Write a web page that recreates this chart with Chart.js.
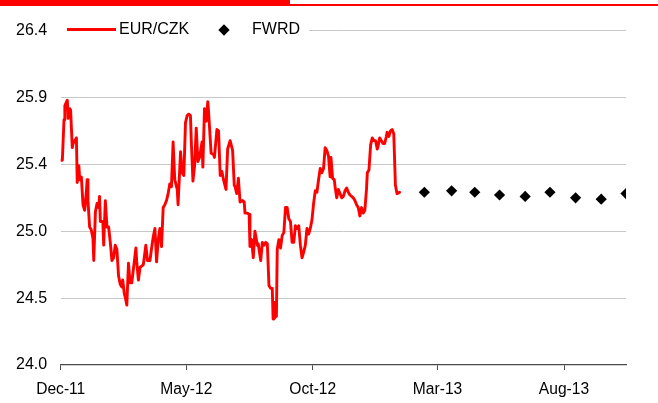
<!DOCTYPE html>
<html>
<head>
<meta charset="utf-8">
<script src="https://cdn.jsdelivr.net/npm/chart.js@4.4.1/dist/chart.umd.min.js"></script>
<style>
  html, body { margin: 0; padding: 0; background: #fff; }
  #wrap { position: relative; width: 658px; height: 403px; overflow: hidden;
          font-family: "Liberation Sans", Arial, sans-serif; }
  #c { position: absolute; left: 0; top: 0; }
  .bar-thick { position: absolute; left: 0; top: 0; width: 290px; height: 5px; background: #ff0000; }
  .bar-thin { position: absolute; left: 0; top: 4px; width: 658px; height: 2px; background: #ff0000; }
  .lg-bg { position: absolute; left: 52px; top: 21px; width: 257px; height: 18px; background: #fff; }
  .lg-line { position: absolute; left: 67px; top: 28px; width: 49px; height: 3px; background: #ff0000; }
  .lg-text { position: absolute; top: 20.45px; font-size: 16px; line-height: 18px; color: #000; white-space: nowrap; }
  .lg-diamond { position: absolute; left: 220px; top: 25.5px; width: 8px; height: 8px; background: #000; transform: rotate(45deg); }
</style>
</head>
<body>
<div id="wrap">
  <canvas id="c" width="658" height="403"></canvas>
  <div class="bar-thick"></div>
  <div class="bar-thin"></div>
  <div class="lg-bg"></div>
  <div class="lg-line"></div>
  <span class="lg-text" style="left:119px">EUR/CZK</span>
  <div class="lg-diamond"></div>
  <span class="lg-text" style="left:252px">FWRD</span>
</div>
<script>
// ---- data ----
const seriesNames = ['EUR/CZK', 'FWRD'];
const startDate = '2011-12-01';           // day 0 of the spot series
const spotDays = [
  0,2,4,5,7,8,9,11,12,14,
  15,17,19,20,22,23,25,27,29,31,
  32,33,35,37,39,40,42,44,46,47,
  48,51,52,54,56,58,60,62,64,66,
  68,70,72,74,75,77,78,80,82,84,
  86,89,91,92,94,96,98,100,103,105,
  108,110,112,114,116,118,120,122,124,126,
  128,130,132,134,136,138,141,142,145,147,
  149,151,153,155,157,158,160,162,164,166,
  168,171,172,174,176,178,179,182,185,186,
  189,191,193,195,197,200,202,205,208,210,
  211,213,215,217,220,222,223,226,228,229,
  231,233,235,238,239,242,244,246,248,250,
  252,254,256,257,258,259,261,262,264,266,
  268,270,272,274,276,278,280,282,284,286,
  288,290,292,294,296,298,300,302,304,306,
  308,310,312,314,316,318,320,322,324,326,
  327,329,331,332,334,336,338,340,342,344,
  346,348,350,352,354,356,358,360,362,364,
  366,368,370,371,373,375,377,379,381,383,
  384,386,388,390,392,394,395,397,399,401,
  403,405,407,408,410
];
const spotValues = [
  25.47,25.47,25.76,25.86,25.89,25.90,25.77,25.84,25.83,25.56,
  25.59,25.61,25.63,25.31,25.43,25.33,25.35,25.15,25.11,25.24,
  25.33,25.18,24.99,24.97,24.91,24.75,25.10,25.16,25.13,25.21,
  25.03,25.03,24.86,25.18,24.99,24.99,24.88,24.75,24.77,24.86,
  24.83,24.64,24.58,24.56,24.61,24.51,24.49,24.43,24.73,24.59,
  24.59,24.74,24.84,24.74,24.61,24.70,24.71,24.72,24.86,24.75,
  24.75,24.84,24.92,24.98,24.74,24.90,24.98,24.85,25.13,25.15,
  25.18,25.23,25.30,25.28,25.60,25.33,25.26,25.15,25.53,25.38,
  25.36,25.74,25.79,25.80,25.79,25.61,25.32,25.43,25.70,25.46,
  25.49,25.60,25.42,25.84,25.75,25.89,25.81,25.52,25.51,25.49,
  25.69,25.68,25.36,25.39,25.33,25.26,25.55,25.61,25.54,25.29,
  25.28,25.23,25.34,25.17,25.18,25.17,25.09,25.09,25.08,24.85,
  24.90,24.77,24.96,24.86,24.87,24.75,24.88,24.86,24.88,24.87,
  24.57,24.55,24.55,24.33,24.45,24.34,24.35,24.83,24.90,24.84,
  24.93,24.95,25.13,25.13,25.05,25.03,24.88,24.88,25.00,24.98,
  25.00,24.86,24.77,24.81,24.86,24.98,24.94,24.98,25.04,25.16,
  25.25,25.24,25.33,25.41,25.38,25.41,25.56,25.54,25.50,25.35,
  25.49,25.34,25.33,25.28,25.20,25.26,25.23,25.20,25.21,25.25,
  25.27,25.24,25.22,25.21,25.20,25.18,25.15,25.13,25.07,25.13,
  25.09,25.11,25.26,25.38,25.40,25.58,25.63,25.61,25.61,25.55,
  25.57,25.63,25.61,25.59,25.59,25.64,25.67,25.64,25.68,25.69,
  25.66,25.29,25.23,25.23,25.24
];
const fwrdDates = ['2013-02-13','2013-03-18','2013-04-15','2013-05-15','2013-06-15',
                   '2013-07-15','2013-08-15','2013-09-15','2013-10-15'];
const fwrdValues = [25.24, 25.25, 25.24, 25.22, 25.21, 25.24, 25.20, 25.19, 25.23];
const xTickDates = ['2011-12-01','2012-05-01','2012-10-01','2013-03-01','2013-08-01'];
const xTickLabels = ['Dec-11','May-12','Oct-12','Mar-13','Aug-13'];
const xAxisEnd = '2013-10-15';
const yTickValues = [24, 24.48, 24.96, 25.44, 25.92, 26.4];
const yMin = 24, yMax = 26.4;

// ---- helpers ----
function utc(s) { const p = s.split('-').map(Number); return Date.UTC(p[0], p[1] - 1, p[2]); }
function dayOf(s) { return Math.round((utc(s) - utc(startDate)) / 86400000); }

const FAMILY = '"Liberation Sans", Arial, sans-serif';

new Chart(document.getElementById('c'), {
  type: 'line',
  data: {
    datasets: [
      {
        label: seriesNames[0],
        data: spotDays.map((d, i) => ({ x: d, y: spotValues[i] })),
        borderColor: '#ff0000',
        borderWidth: 2.9,
        pointRadius: 0,
        tension: 0,
        fill: false,
        borderJoinStyle: 'round',
        borderCapStyle: 'round',
        order: 2
      },
      {
        label: seriesNames[1],
        data: fwrdDates.map((s, i) => ({ x: dayOf(s), y: fwrdValues[i] })),
        showLine: false,
        pointStyle: 'rectRot',
        pointRadius: 5.6,
        pointBackgroundColor: '#000',
        pointBorderColor: '#000',
        pointBorderWidth: 0,
        order: 1
      }
    ]
  },
  options: {
    responsive: false,
    animation: false,
    devicePixelRatio: 1,
    events: [],
    layout: { padding: { top: 30.6, right: 32, left: 0, bottom: 0 } },
    plugins: { legend: { display: false }, tooltip: { enabled: false } },
    scales: {
      x: {
        type: 'linear',
        min: 0,
        max: dayOf(xAxisEnd),
        afterBuildTicks: s => { s.ticks = xTickDates.map(d => ({ value: dayOf(d) })); },
        afterFit: s => { s.height = 38; },
        grid: { drawOnChartArea: false, drawTicks: true, tickLength: 5, color: '#4a4a4a', lineWidth: 1 },
        border: { display: true, color: '#4a4a4a', width: 1.3 },
        ticks: {
          autoSkip: false, maxRotation: 0, minRotation: 0, padding: 10,
          color: '#000', font: { family: FAMILY, size: 15.6 },
          callback: (v, i) => xTickLabels[i]
        }
      },
      y: {
        min: yMin,
        max: yMax,
        afterBuildTicks: s => { s.ticks = yTickValues.map(v => ({ value: v })); },
        afterFit: s => { s.width = 60.7; },
        grid: {
          drawTicks: false,
          lineWidth: 1,
          color: ctx => (ctx.tick && ctx.tick.value === yMin) ? 'rgba(0,0,0,0)' : '#c8c8c8'
        },
        border: { display: false },
        ticks: {
          padding: 13.5, color: '#000', font: { family: FAMILY, size: 16 },
          callback: v => Number(v).toFixed(1)
        }
      }
    }
  }
});
</script>
</body>
</html>
